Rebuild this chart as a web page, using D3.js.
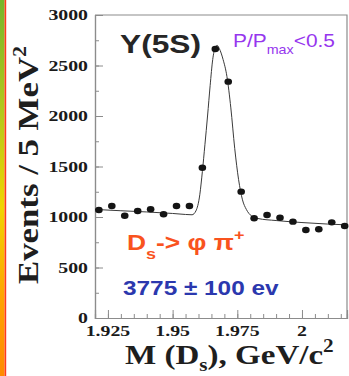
<!DOCTYPE html>
<html>
<head>
<meta charset="utf-8">
<script src="https://cdn.jsdelivr.net/npm/d3@7"></script>
<style>
  html, body { margin: 0; padding: 0; background: #ffffff; }
  svg { display: block; }
</style>
</head>
<body>
<script>
// D_s candidate mass spectrum: bin centres (GeV/c^2) and events per 5 MeV bin
const massBins = [1.9215, 1.9265, 1.9315, 1.9365, 1.9415, 1.9465, 1.9515, 1.9565, 1.9615, 1.9665,
                  1.9715, 1.9765, 1.9815, 1.9865, 1.9915, 1.9965, 2.0015, 2.0065, 2.0115, 2.0165];
const counts   = [1069, 1109, 1013, 1059, 1076, 1027, 1109, 1109, 1488, 2663,
                  2340, 1251, 987, 1020, 993, 954, 871, 878, 947, 911];

// Fitted signal + background curve
const fitMass = [1.92, 1.93, 1.94, 1.95, 1.955, 1.9575, 1.959, 1.9605, 1.9615, 1.9625,
                 1.9635, 1.9645, 1.9655, 1.9665, 1.9672, 1.968, 1.9695, 1.971, 1.9725, 1.974,
                 1.9755, 1.977, 1.9785, 1.9805, 1.983, 1.99, 2.0, 2.01, 2.0174];
const fitValue = [1075, 1062, 1050, 1035, 1025, 1022, 1060, 1220, 1450, 1720,
                  2000, 2300, 2560, 2680, 2700, 2670, 2560, 2390, 2080, 1680,
                  1370, 1170, 1075, 1010, 985, 965, 945, 930, 922];

// Axis ticks and labels
const xMajorTicks = [1.925, 1.95, 1.975, 2.0];
const xTickLabels = ["1.925", "1.95", "1.975", "2"];
const yMajorTicks = [0, 500, 1000, 1500, 2000, 2500, 3000];
const yTickLabels = ["0", "500", "1000", "1500", "2000", "2500", "3000"];

const W = 349, H = 376;
const plot = { left: 95, right: 347, top: 15, bottom: 318 };

const svg = d3.select("body").append("svg")
  .attr("width", W).attr("height", H);

// Coloured stripe along the left edge
const defs = svg.append("defs");
const grad = defs.append("linearGradient").attr("id", "edge")
  .attr("x1", 0).attr("y1", 0).attr("x2", 0).attr("y2", 1);
[["0", "#76b52a"], ["0.3", "#b4c81a"], ["0.55", "#f0d400"], ["0.8", "#ffa200"], ["1", "#ff8a00"]]
  .forEach(([o, c]) => grad.append("stop").attr("offset", o).attr("stop-color", c));
svg.append("rect").attr("x", 0).attr("y", 0).attr("width", 4.6).attr("height", H)
  .attr("fill", "url(#edge)");
svg.append("rect").attr("x", 4.6).attr("y", 0).attr("width", 1.6).attr("height", H)
  .attr("fill", "#ff3a1c");

const x = d3.scaleLinear().domain([1.92, 2.0174]).range([plot.left, plot.right]);
const y = d3.scaleLinear().domain([0, 3000]).range([plot.bottom, plot.top]);

const axisColor = "#8c8c8c";

// Frame (top and right edges)
svg.append("path")
  .attr("d", `M${plot.left},${plot.top}H${plot.right}V${plot.bottom}`)
  .attr("fill", "none").attr("stroke", axisColor).attr("stroke-width", 1.2);

// X axis: ticks point up into the plot
const xMinor = d3.range(1.92, 2.0174, 0.005);
const xAxis = svg.append("g").attr("transform", `translate(0,${plot.bottom})`);
xAxis.append("g").call(d3.axisTop(x).tickValues(xMinor).tickSize(4).tickFormat(""));
xAxis.append("g").call(d3.axisTop(x).tickValues(xMajorTicks).tickSize(8).tickFormat(""));
xAxis.selectAll(".domain").attr("stroke", axisColor).attr("stroke-width", 1.2);
xAxis.selectAll(".tick line").attr("stroke", axisColor);

// Y axis: ticks point right into the plot
const yMinor = d3.range(0, 3001, 250);
const yAxis = svg.append("g").attr("transform", `translate(${plot.left},0)`);
yAxis.append("g").call(d3.axisRight(y).tickValues(yMinor).tickSize(4).tickFormat(""));
yAxis.append("g").call(d3.axisRight(y).tickValues(yMajorTicks).tickSize(8).tickFormat(""));
yAxis.selectAll(".domain").attr("stroke", axisColor).attr("stroke-width", 1.2);
yAxis.selectAll(".tick line").attr("stroke", axisColor);

// Helper: text stretched horizontally by sx
function label(px, py, sx, opts) {
  const g = svg.append("g").attr("transform", `translate(${px},${py}) scale(${sx},1)`);
  const t = g.append("text")
    .attr("font-family", opts.family)
    .attr("font-weight", opts.weight || "bold")
    .attr("font-size", opts.size)
    .attr("fill", opts.fill)
    .attr("text-anchor", opts.anchor || "start");
  return t;
}

const serif = "'Liberation Serif', 'Times New Roman', serif";
const sans = "'Liberation Sans', Arial, Helvetica, sans-serif";

// Tick labels
yMajorTicks.forEach((v, i) => {
  label(88, y(v) + 5, 1.32, { family: serif, size: 15, fill: "#1a1a1a", anchor: "end" })
    .text(yTickLabels[i]);
});
xMajorTicks.forEach((v, i) => {
  label(x(v), 335.5, 1.32, { family: serif, size: 15, fill: "#1a1a1a", anchor: "middle" })
    .text(xTickLabels[i]);
});

// Axis titles
const yt = svg.append("g").attr("transform", "translate(37.5,165) rotate(-90) scale(1.16,1)")
  .append("text").attr("font-family", serif).attr("font-weight", "bold")
  .attr("font-size", 30).attr("fill", "#1e1e1e").attr("text-anchor", "middle");
yt.append("tspan").text("Events / 5 MeV");
yt.append("tspan").attr("font-size", 19).attr("dy", -12).text("2");

const xt = label(125, 364, 1.18, { family: serif, size: 28, fill: "#1e1e1e" });
xt.append("tspan").text("M (D");
xt.append("tspan").attr("font-size", 18).attr("dy", 7).text("s");
xt.append("tspan").attr("dy", -7).text("), GeV/c");
xt.append("tspan").attr("font-size", 18).attr("dy", -12).text("2");

// Fit curve
svg.append("path")
  .datum(fitMass.map((m, i) => [m, fitValue[i]]))
  .attr("fill", "none").attr("stroke", "#3a3a3a").attr("stroke-width", 1)
  .attr("d", d3.line().x(d => x(d[0])).y(d => y(d[1])).curve(d3.curveMonotoneX));

// Data points
svg.append("g").selectAll("ellipse")
  .data(massBins.map((m, i) => [m, counts[i]]))
  .join("ellipse")
  .attr("cx", d => x(d[0])).attr("cy", d => y(d[1]))
  .attr("rx", 3.8).attr("ry", 3.2)
  .attr("fill", "#141414");

// Annotations
label(120, 53, 1.22, { family: sans, size: 26, fill: "#262626" }).text("Y(5S)");

const pp = label(233, 47, 1.1, { family: sans, size: 19, weight: "normal", fill: "#9636ee" });
pp.append("tspan").text("P/P");
pp.append("tspan").attr("font-size", 13).attr("dy", 7).text("max");
pp.append("tspan").attr("dy", -7).text("<0.5");

const dc = label(127, 250, 1.2, { family: sans, size: 22, fill: "#f9531e" });
dc.append("tspan").text("D");
dc.append("tspan").attr("font-size", 15).attr("dy", 9).text("s");
dc.append("tspan").attr("dy", -9).text("-> \u03c6 \u03c0");
dc.append("tspan").attr("font-size", 15).attr("dy", -10).text("+");

label(123, 295, 1.16, { family: sans, size: 21, fill: "#2b38ae" }).text("3775 \u00b1 100 ev");
</script>
</body>
</html>
